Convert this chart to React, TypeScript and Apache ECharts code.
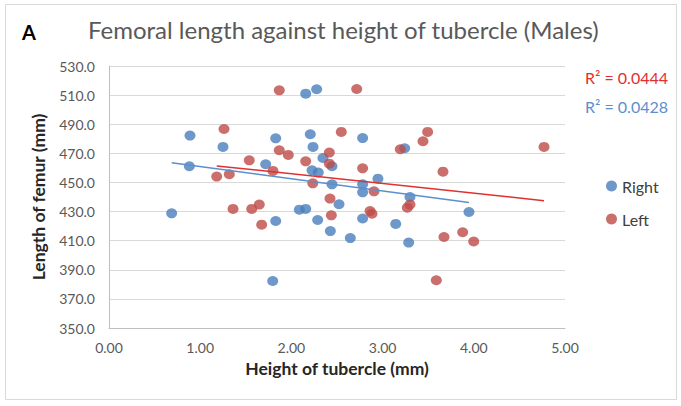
import React, { useEffect, useRef } from "react";
import * as echarts from "echarts";

const rightX = [2.157, 2.277, 0.888, 1.25, 1.828, 2.207, 2.237, 1.718, 0.881, 2.226, 2.295, 2.346, 2.781, 3.242, 2.445, 2.949, 2.445, 2.781, 2.781, 3.30, 0.687, 1.828, 2.087, 2.157, 2.288, 1.795, 3.947, 2.522, 2.427, 2.646, 2.781, 3.144, 3.286];
const rightY = [511.0, 514.0, 482.2, 474.4, 480.3, 483.1, 474.4, 462.5, 461.1, 458.3, 456.8, 466.8, 480.5, 473.5, 461.1, 452.6, 448.7, 448.7, 443.2, 440.0, 428.8, 423.5, 431.3, 431.8, 424.2, 382.3, 429.7, 435.0, 416.6, 411.8, 425.2, 421.5, 408.7];

const leftX = [1.867, 1.261, 1.867, 1.966, 1.538, 2.157, 1.181, 1.319, 1.798, 2.234, 2.716, 2.547, 3.494, 3.443, 3.194, 4.770, 2.416, 2.416, 2.781, 3.662, 2.906, 2.423, 1.36, 1.565, 1.648, 1.674, 3.30, 3.271, 2.438, 2.862, 2.884, 3.673, 3.878, 3.999, 3.589];
const leftY = [513.3, 486.7, 472.1, 468.9, 465.2, 464.5, 454.0, 455.6, 457.9, 449.4, 514.2, 484.7, 484.7, 478.3, 472.8, 474.4, 470.5, 462.9, 459.7, 457.4, 443.9, 438.9, 431.8, 431.8, 434.8, 421.0, 434.8, 432.7, 427.4, 430.3, 428.5, 412.5, 415.8, 409.4, 382.8];

const seriesNames = ["Right", "Left"];
const r2Labels = ["R² = 0.0444", "R² = 0.0428"];
const titleText = "Femoral length against height of tubercle (Males)";
const xAxisName = "Height of tubercle (mm)";
const yAxisName = "Length of femur (mm)";

const BLUE = "#4a7ebb";
const RED = "#be4b48";

function pairs(xs: number[], ys: number[]) {
  return xs.map((x, i) => [x, ys[i]]);
}

function trend(xs: number[], ys: number[]) {
  const n = xs.length;
  const mx = xs.reduce((a, b) => a + b, 0) / n;
  const my = ys.reduce((a, b) => a + b, 0) / n;
  let sxy = 0, sxx = 0;
  for (let i = 0; i < n; i++) {
    sxy += (xs[i] - mx) * (ys[i] - my);
    sxx += (xs[i] - mx) ** 2;
  }
  const b = sxy / sxx;
  const a = my - b * mx;
  const x0 = Math.min(...xs), x1 = Math.max(...xs);
  return [[x0, a + b * x0], [x1, a + b * x1]];
}

export default function App() {
  const ref = useRef<HTMLDivElement>(null);
  useEffect(() => {
    document.body.style.margin = "0";
    const chart = echarts.init(ref.current!, null, { renderer: "svg" });
    const font = "Lato, 'Open Sans', sans-serif";
    chart.setOption({
      animation: false,
      backgroundColor: "#ffffff",
      textStyle: { fontFamily: font },
      grid: { left: 109, right: 116, top: 66, bottom: 78 },
      xAxis: {
        type: "value",
        min: 0,
        max: 5,
        interval: 1,
        name: xAxisName,
        nameLocation: "middle",
        nameGap: 31,
        nameTextStyle: { fontSize: 17.5, fontWeight: "bold", color: "#262626", fontFamily: font },
        axisLine: { show: true, lineStyle: { color: "#bfbfbf" } },
        axisTick: { show: false },
        splitLine: { show: false },
        axisLabel: { formatter: (v: number) => v.toFixed(2), fontSize: 14, color: "#595959", margin: 12 },
      },
      yAxis: {
        type: "value",
        min: 350,
        max: 530,
        interval: 20,
        name: yAxisName,
        nameLocation: "middle",
        nameGap: 62,
        nameTextStyle: { fontSize: 17.5, fontWeight: "bold", color: "#262626", fontFamily: font },
        axisLine: { show: true, lineStyle: { color: "#bfbfbf" } },
        axisTick: { show: false },
        splitLine: { show: true, lineStyle: { color: "#d9d9d9" } },
        axisLabel: { formatter: (v: number) => v.toFixed(1), fontSize: 14, color: "#595959", margin: 14 },
      },
      legend: {
        data: seriesNames,
        orient: "vertical",
        left: 601,
        top: 173,
        itemGap: 17,
        itemWidth: 11,
        itemHeight: 11,
        icon: "circle",
        textStyle: { fontSize: 16, color: "#404040", fontFamily: font },
      },
      graphic: [
        { type: "rect", shape: { x: 5.5, y: 4.5, width: 671, height: 395 }, style: { fill: "none", stroke: "#d9d9d9", lineWidth: 1 }, silent: true },
        { type: "text", left: 22, top: 22, style: { text: "A", fontSize: 20, fontWeight: "bold", fill: "#000000", fontFamily: font } },
        { type: "text", left: 88, top: 17, style: { text: titleText, fontSize: 24, fill: "#595959", fontFamily: font } },
        { type: "text", left: 585, top: 69, style: { text: r2Labels[0], fontSize: 16, fill: "#e0302f", fontFamily: font } },
        { type: "text", left: 585, top: 98, style: { text: r2Labels[1], fontSize: 16, fill: "#5b8fd0", fontFamily: font } },
      ],
      series: [
        { name: seriesNames[0], type: "scatter", symbolSize: [11, 10], itemStyle: { color: BLUE }, data: pairs(rightX, rightY), z: 3 },
        { name: seriesNames[1], type: "scatter", symbolSize: [11, 10], itemStyle: { color: RED }, data: pairs(leftX, leftY), z: 3 },
        { name: "RightTrend", type: "line", data: trend(rightX, rightY), symbol: "none", lineStyle: { color: "#5b8fd0", width: 1.5 }, z: 4 },
        { name: "LeftTrend", type: "line", data: trend(leftX, leftY), symbol: "none", lineStyle: { color: "#e0302f", width: 1.5 }, z: 4 },
      ],
    });
    return () => chart.dispose();
  }, []);
  return <div ref={ref} style={{ width: 681, height: 406 }} />;
}
